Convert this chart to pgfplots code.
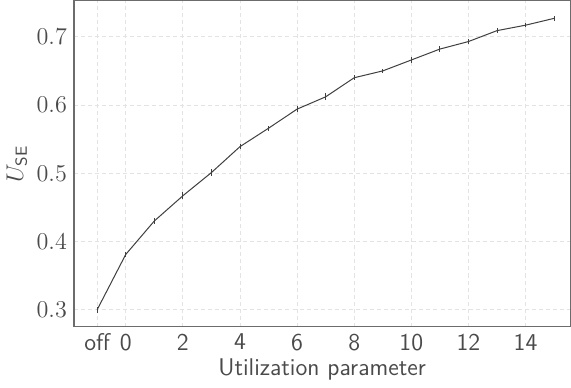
\documentclass[border=0pt]{standalone}
\usepackage{pgfplots}
\pgfplotsset{compat=1.18}
\definecolor{txt}{HTML}{4A4A4A}
\definecolor{ln}{HTML}{404040}
\begin{document}
\begin{tikzpicture}
\begin{axis}[
  scale only axis,
  width=246.5pt, height=162pt,
  xmin=-1.81, xmax=15.57,
  ymin=0.275, ymax=0.753,
  xtick={-1,0,2,4,6,8,10,12,14},
  xticklabels={off,0,2,4,6,8,10,12,14},
  xticklabel style={font=\sffamily\large, text=txt},
  ytick={0.3,0.4,0.5,0.6,0.7},
  yticklabel style={font=\large, text=txt, /pgf/number format/fixed, /pgf/number format/precision=1},
  major tick length=0pt,
  grid=major,
  major grid style={dash pattern=on 2pt off 1.5pt, gray!22, line width=0.35pt},
  axis line style={gray!85!black, line width=0.6pt},
  xlabel={Utilization parameter},
  ylabel={$U_{\mathsf{SE}}$},
  xlabel style={font=\sffamily\large, text=txt, yshift=3pt},
  ylabel style={font=\large, text=txt, yshift=-2pt},
]
\addplot[ln, line width=0.5pt, mark=none,
  error bars/.cd, y dir=both, y explicit,
  error bar style={ln, line width=0.4pt},
  error mark=none]
coordinates {
(-1,0.300) +- (0,0.004)
(0,0.381) +- (0,0.004)
(1,0.430) +- (0,0.004)
(2,0.467) +- (0,0.005)
(3,0.501) +- (0,0.005)
(4,0.539) +- (0,0.004)
(5,0.566) +- (0,0.004)
(6,0.594) +- (0,0.004)
(7,0.612) +- (0,0.005)
(8,0.640) +- (0,0.004)
(9,0.650) +- (0,0.003)
(10,0.666) +- (0,0.004)
(11,0.682) +- (0,0.004)
(12,0.693) +- (0,0.004)
(13,0.709) +- (0,0.004)
(14,0.717) +- (0,0.003)
(15,0.727) +- (0,0.004)
};
\end{axis}
\end{tikzpicture}
\end{document}
